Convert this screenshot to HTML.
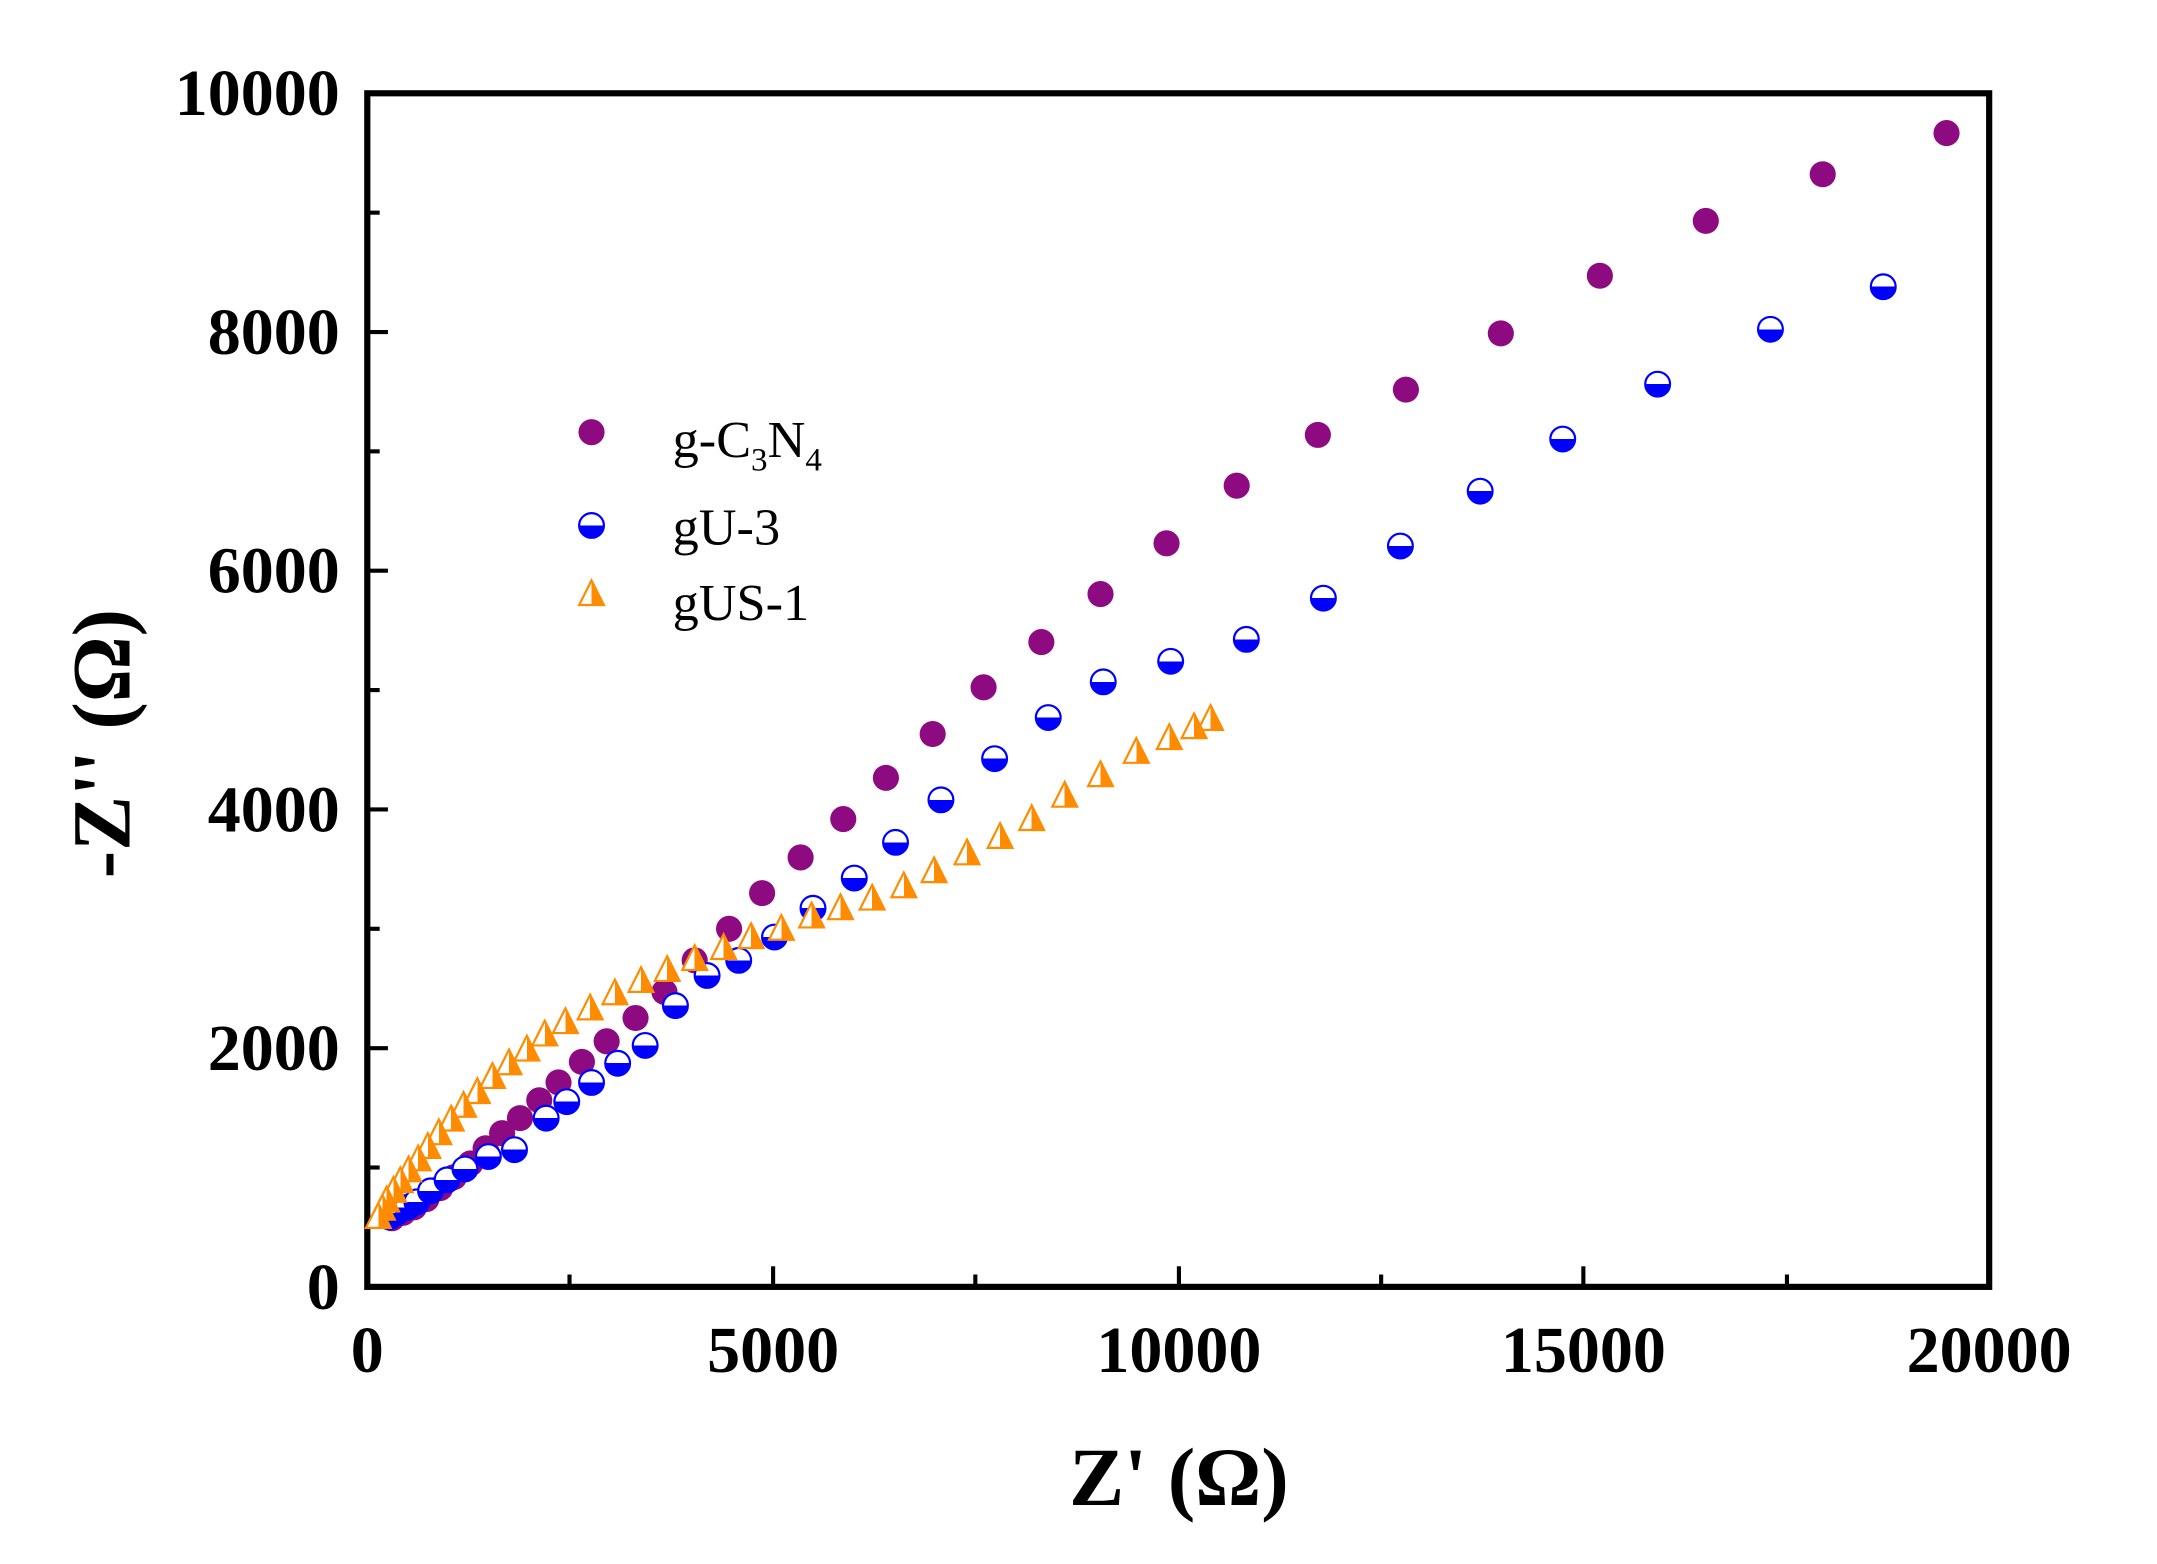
<!DOCTYPE html>
<html><head><meta charset="utf-8"><style>
html,body{margin:0;padding:0;background:#fff;}
svg{display:block;}
</style></head><body>
<svg width="2157" height="1564" viewBox="0 0 1568 1140" preserveAspectRatio="none" xmlns="http://www.w3.org/2000/svg">
<defs>
<linearGradient id="bh" x1="0" y1="0" x2="0" y2="1"><stop offset="0.5" stop-color="#fff"/><stop offset="0.5" stop-color="#0000ff"/></linearGradient>
<linearGradient id="oh" x1="0" y1="0" x2="1" y2="0"><stop offset="0.5" stop-color="#fff"/><stop offset="0.5" stop-color="#ff8c00"/></linearGradient>
<circle id="p" r="9.5" fill="#8e0a80"/>
<circle id="b" r="9" fill="url(#bh)" stroke="#0000ff" stroke-width="1.6"/>
<polygon id="t" points="0,-10 9,8 -9,8" fill="url(#oh)" stroke="#ff8c00" stroke-width="1.6"/>
</defs>
<rect width="1568" height="1140" fill="#fff"/>
<rect x="267" y="68" width="1179" height="870" fill="none" stroke="#000" stroke-width="4.5"/>
<g stroke="#000" stroke-width="3">
<line x1="267" y1="851" x2="276" y2="851"/><line x1="267" y1="764" x2="282" y2="764"/>
<line x1="267" y1="677" x2="276" y2="677"/><line x1="267" y1="590" x2="282" y2="590"/>
<line x1="267" y1="503" x2="276" y2="503"/><line x1="267" y1="416" x2="282" y2="416"/>
<line x1="267" y1="329" x2="276" y2="329"/><line x1="267" y1="242" x2="282" y2="242"/>
<line x1="267" y1="155" x2="276" y2="155"/>
<line x1="414" y1="938" x2="414" y2="929"/><line x1="562" y1="938" x2="562" y2="923"/>
<line x1="709" y1="938" x2="709" y2="929"/><line x1="857" y1="938" x2="857" y2="923"/>
<line x1="1004" y1="938" x2="1004" y2="929"/><line x1="1151" y1="938" x2="1151" y2="923"/>
<line x1="1299" y1="938" x2="1299" y2="929"/>
</g>
<g font-family="Liberation Serif, serif" font-weight="bold" font-size="48" fill="#000">
<g text-anchor="end">
<text x="247" y="84">10000</text><text x="247" y="258">8000</text><text x="247" y="432">6000</text>
<text x="247" y="606">4000</text><text x="247" y="780">2000</text><text x="247" y="954">0</text>
</g>
<g text-anchor="middle">
<text x="267" y="1000">0</text><text x="562" y="1000">5000</text><text x="857" y="1000">10000</text>
<text x="1151" y="1000">15000</text><text x="1446" y="1000">20000</text>
</g>
<text x="857" y="1097" font-size="60" text-anchor="middle">Z' (Ω)</text>
<text transform="translate(94,542) rotate(-90)" font-size="60" text-anchor="middle">-Z'' (Ω)</text>
</g>
<use href="#p" x="430" y="315"/><use href="#b" x="430" y="383"/><use href="#t" x="430" y="433"/>
<g font-family="Liberation Serif, serif" font-size="38" fill="#000">
<text x="489" y="333">g-C<tspan font-size="24" dy="10">3</tspan><tspan dy="-10">N</tspan><tspan font-size="24" dy="10">4</tspan></text>
<text x="489" y="397">gU-3</text>
<text x="489" y="452">gUS-1</text>
</g>
<g>
<use href="#p" x="1415" y="97"/><use href="#p" x="1325" y="127"/><use href="#p" x="1240" y="161"/><use href="#p" x="1163" y="201"/><use href="#p" x="1091" y="243"/><use href="#p" x="1022" y="284"/><use href="#p" x="958" y="317"/><use href="#p" x="899" y="354"/><use href="#p" x="848" y="396"/><use href="#p" x="800" y="433"/><use href="#p" x="757" y="468"/><use href="#p" x="715" y="501"/><use href="#p" x="678" y="535"/><use href="#p" x="644" y="567"/><use href="#p" x="613" y="597"/><use href="#p" x="582" y="625"/><use href="#p" x="554" y="651"/><use href="#p" x="530" y="677"/><use href="#p" x="505" y="700"/><use href="#p" x="483" y="723"/><use href="#p" x="462" y="742"/><use href="#p" x="441" y="759"/><use href="#p" x="423" y="774"/><use href="#p" x="406" y="789"/><use href="#p" x="392" y="802"/><use href="#p" x="378" y="815"/><use href="#p" x="365" y="826"/><use href="#p" x="353" y="837"/><use href="#p" x="342" y="848"/><use href="#p" x="330" y="858"/><use href="#p" x="320" y="866"/><use href="#p" x="310" y="874"/><use href="#p" x="301" y="880"/><use href="#p" x="293" y="884"/><use href="#p" x="285" y="888"/>
</g>
<g>
<use href="#b" x="290" y="872"/><use href="#b" x="285" y="878"/><use href="#b" x="283" y="887"/><use href="#b" x="288" y="884"/><use href="#b" x="296" y="880"/><use href="#b" x="303" y="876"/><use href="#b" x="313" y="868"/><use href="#b" x="325" y="860"/><use href="#b" x="338" y="852"/><use href="#b" x="355" y="843"/><use href="#b" x="374" y="838"/><use href="#b" x="397" y="815"/><use href="#b" x="412" y="803"/><use href="#b" x="430" y="789"/><use href="#b" x="449" y="775"/><use href="#b" x="469" y="762"/><use href="#b" x="491" y="733"/><use href="#b" x="514" y="711"/><use href="#b" x="537" y="700"/><use href="#b" x="563" y="683"/><use href="#b" x="591" y="662"/><use href="#b" x="621" y="640"/><use href="#b" x="651" y="614"/><use href="#b" x="684" y="583"/><use href="#b" x="723" y="553"/><use href="#b" x="762" y="523"/><use href="#b" x="802" y="497"/><use href="#b" x="851" y="482"/><use href="#b" x="906" y="466"/><use href="#b" x="962" y="436"/><use href="#b" x="1018" y="398"/><use href="#b" x="1076" y="358"/><use href="#b" x="1136" y="320"/><use href="#b" x="1205" y="280"/><use href="#b" x="1287" y="240"/><use href="#b" x="1369" y="209"/>
</g>
<g>
<use href="#t" x="880" y="524"/><use href="#t" x="868" y="530"/><use href="#t" x="850" y="538"/><use href="#t" x="826" y="548"/><use href="#t" x="800" y="565"/><use href="#t" x="774" y="580"/><use href="#t" x="750" y="597"/><use href="#t" x="727" y="610"/><use href="#t" x="703" y="622"/><use href="#t" x="679" y="635"/><use href="#t" x="657" y="646"/><use href="#t" x="634" y="655"/><use href="#t" x="611" y="662"/><use href="#t" x="590" y="668"/><use href="#t" x="568" y="677"/><use href="#t" x="546" y="683"/><use href="#t" x="526" y="691"/><use href="#t" x="505" y="699"/><use href="#t" x="485" y="707"/><use href="#t" x="466" y="715"/><use href="#t" x="447" y="724"/><use href="#t" x="429" y="735"/><use href="#t" x="411" y="745"/><use href="#t" x="396" y="754"/><use href="#t" x="383" y="765"/><use href="#t" x="370" y="775"/><use href="#t" x="358" y="785"/><use href="#t" x="347" y="796"/><use href="#t" x="337" y="806"/><use href="#t" x="328" y="816"/><use href="#t" x="319" y="826"/><use href="#t" x="311" y="836"/><use href="#t" x="304" y="845"/><use href="#t" x="297" y="853"/><use href="#t" x="291" y="861"/><use href="#t" x="286" y="868"/><use href="#t" x="281" y="875"/><use href="#t" x="278" y="881"/><use href="#t" x="275" y="887"/>
</g>
</svg>
</body></html>
